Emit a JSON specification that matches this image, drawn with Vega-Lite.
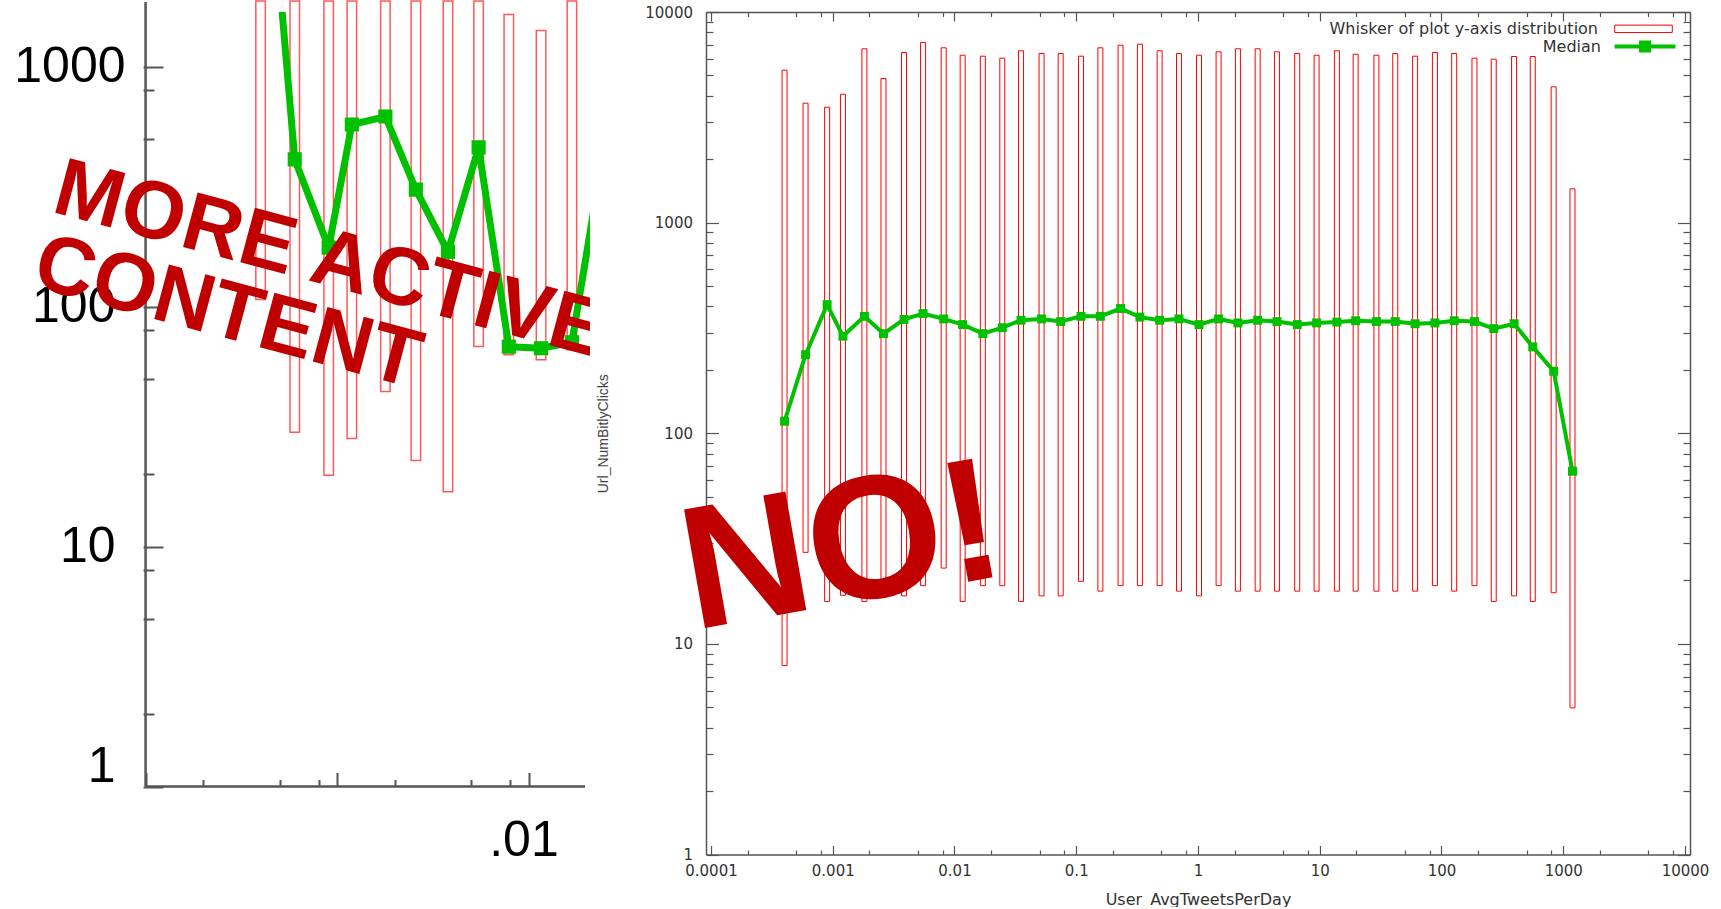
{
  "$schema": "https://vega.github.io/schema/vega-lite/v6.json",
  "background": "white",
  "padding": 0,
  "spacing": 6,
  "config": {
    "view": {"stroke": null},
    "axis": {"grid": false, "labelFlush": false, "labelOverlap": false, "titleFontWeight": "normal"},
    "legend": {"padding": 0}
  },
  "datasets": {
    "left": [
      {"x": 0.000398, "top": 1875, "bot": 107, "med": 19000},
      {"x": 0.000600, "top": 1875, "bot": 29.9, "med": 410},
      {"x": 0.000902, "top": 1875, "bot": 19.8, "med": 176},
      {"x": 0.001191, "top": 1875, "bot": 28.2, "med": 573},
      {"x": 0.001782, "top": 1875, "bot": 44.2, "med": 619},
      {"x": 0.00257, "top": 1875, "bot": 22.8, "med": 307},
      {"x": 0.00378, "top": 1875, "bot": 16.9, "med": 169},
      {"x": 0.00546, "top": 1875, "bot": 68.1, "med": 460},
      {"x": 0.00785, "top": 1648, "bot": 63, "med": 68},
      {"x": 0.01156, "top": 1413, "bot": 60, "med": 67},
      {"x": 0.01675, "top": 1875, "bot": 66, "med": 71},
      {"x": 0.02455, "top": null, "bot": null, "med": 450}
    ],
    "right": [
      {"x": 0.000402, "top": 5291, "bot": 7.89, "med": 114},
      {"x": 0.000598, "top": 3690, "bot": 27.2, "med": 236},
      {"x": 0.000899, "top": 3532, "bot": 15.9, "med": 408},
      {"x": 0.001213, "top": 4070, "bot": 17, "med": 289},
      {"x": 0.00182, "top": 6688, "bot": 15.9, "med": 359},
      {"x": 0.00261, "top": 4832, "bot": 16.9, "med": 297},
      {"x": 0.00385, "top": 6424, "bot": 16.9, "med": 347},
      {"x": 0.00552, "top": 7168, "bot": 18.9, "med": 370},
      {"x": 0.00815, "top": 6761, "bot": 22.9, "med": 349},
      {"x": 0.01167, "top": 6234, "bot": 15.9, "med": 328},
      {"x": 0.0171, "top": 6167, "bot": 18.9, "med": 297},
      {"x": 0.0247, "top": 6034, "bot": 18.9, "med": 317},
      {"x": 0.0352, "top": 6544, "bot": 15.9, "med": 344},
      {"x": 0.0519, "top": 6353, "bot": 16.9, "med": 349},
      {"x": 0.0745, "top": 6353, "bot": 16.9, "med": 339},
      {"x": 0.1094, "top": 6167, "bot": 19.8, "med": 359},
      {"x": 0.1578, "top": 6761, "bot": 17.8, "med": 359},
      {"x": 0.2312, "top": 6957, "bot": 18.9, "med": 391},
      {"x": 0.3334, "top": 7033, "bot": 18.9, "med": 356},
      {"x": 0.484, "top": 6544, "bot": 18.9, "med": 344},
      {"x": 0.698, "top": 6353, "bot": 17.8, "med": 349},
      {"x": 1.019, "top": 6234, "bot": 16.9, "med": 328},
      {"x": 1.476, "top": 6471, "bot": 18.9, "med": 349},
      {"x": 2.128, "top": 6688, "bot": 17.8, "med": 334},
      {"x": 3.09, "top": 6688, "bot": 17.8, "med": 344},
      {"x": 4.45, "top": 6471, "bot": 17.8, "med": 339},
      {"x": 6.53, "top": 6353, "bot": 17.8, "med": 328},
      {"x": 9.42, "top": 6234, "bot": 17.8, "med": 334},
      {"x": 13.83, "top": 6544, "bot": 17.8, "med": 337},
      {"x": 19.72, "top": 6302, "bot": 17.8, "med": 342},
      {"x": 29.2, "top": 6234, "bot": 17.8, "med": 339},
      {"x": 41.7, "top": 6353, "bot": 17.8, "med": 339},
      {"x": 60.7, "top": 6167, "bot": 17.8, "med": 331},
      {"x": 88.3, "top": 6424, "bot": 18.9, "med": 334},
      {"x": 127.1, "top": 6353, "bot": 17.8, "med": 342},
      {"x": 186.6, "top": 6034, "bot": 18.9, "med": 339},
      {"x": 268.5, "top": 5969, "bot": 15.9, "med": 314},
      {"x": 394.5, "top": 6147, "bot": 16.9, "med": 331},
      {"x": 562, "top": 6147, "bot": 15.9, "med": 257},
      {"x": 834, "top": 4413, "bot": 17.5, "med": 197},
      {"x": 1191, "top": 1447, "bot": 4.97, "med": 66}
    ]
  },
  "hconcat": [
    {
      "width": 590,
      "height": 774.5,
      "data": {"name": "left"},
      "resolve": {"axis": {"x": "independent", "y": "independent"}},
      "layer": [
        {
          "mark": {"type": "bar", "size": 9.5, "filled": false, "stroke": "#ff5a5a", "strokeWidth": 1.5},
          "encoding": {
            "x": {"field": "x", "type": "quantitative",
              "scale": {"type": "log", "domain": [1.848e-5, 0.0196], "nice": false},
              "axis": {"orient": "bottom", "domain": false,
                "values": [0.0001, 0.0002, 0.0005, 0.0008, 0.001, 0.002, 0.005, 0.008, 0.01],
                "tickSize": {"condition": {"test": "indexof([0.0001, 0.001, 0.01], datum.value) >= 0", "value": -14}, "value": -7},
                "tickColor": "#555", "tickWidth": 2,
                "labelExpr": "datum.value == 0.01 ? '.01' : ''",
                "labelFont": "Liberation Sans", "labelFontSize": 50, "labelColor": "#000",
                "labelPadding": 43, "labelOffset": -5.5, "title": null}},
            "y": {"field": "top", "type": "quantitative",
              "scale": {"type": "log", "domain": [1, 1687], "nice": false},
              "axis": {"orient": "left", "offset": -143, "domain": false,
                "values": [1, 2, 5, 8, 10, 20, 50, 80, 100, 200, 500, 800, 1000],
                "tickSize": {"condition": {"test": "indexof([1, 10, 100, 1000], datum.value) >= 0", "value": -20}, "value": -11},
                "tickColor": "#555", "tickWidth": 2,
                "labelExpr": "indexof([1, 10, 100, 1000], datum.value) >= 0 ? format(datum.value, '~g') : ''",
                "labelFont": "Liberation Sans", "labelFontSize": 50, "labelColor": "#000",
                "labelPadding": {"condition": {"test": "datum.value == 1000", "value": 38}, "value": 48},
                "labelOffset": {"condition": {"test": "datum.value == 1", "value": -20}, "value": 0},
                "title": null}},
            "y2": {"field": "bot"}
          }
        },
        {
          "mark": {"type": "line", "color": "#00c000", "strokeWidth": 7, "clip": true},
          "encoding": {
            "x": {"field": "x", "type": "quantitative", "scale": {"type": "log", "domain": [1.848e-5, 0.0196], "nice": false}, "axis": null},
            "y": {"field": "med", "type": "quantitative", "scale": {"type": "log", "domain": [1, 1687], "nice": false}, "axis": null}
          }
        },
        {
          "mark": {"type": "point", "shape": "square", "filled": true, "size": 200, "color": "#00c000", "opacity": 1, "clip": true},
          "encoding": {
            "x": {"field": "x", "type": "quantitative", "scale": {"type": "log", "domain": [1.848e-5, 0.0196], "nice": false}, "axis": null},
            "y": {"field": "med", "type": "quantitative", "scale": {"type": "log", "domain": [1, 1687], "nice": false}, "axis": null}
          }
        },
        {
          "data": {"values": [{}]},
          "mark": {"type": "rule", "color": "#555", "strokeWidth": 2.5},
          "encoding": {
            "x": {"datum": 0.0001, "type": "quantitative", "scale": {"type": "log", "domain": [1.848e-5, 0.0196], "nice": false}, "axis": null},
            "x2": {"datum": 0.0196},
            "y": {"datum": 1, "type": "quantitative", "scale": {"type": "log", "domain": [1, 1687], "nice": false}, "axis": null}
          }
        },
        {
          "data": {"values": [{}]},
          "mark": {"type": "rule", "color": "#555", "strokeWidth": 2.5},
          "encoding": {
            "x": {"datum": 0.0001, "type": "quantitative", "scale": {"type": "log", "domain": [1.848e-5, 0.0196], "nice": false}, "axis": null},
            "y": {"datum": 1, "type": "quantitative", "scale": {"type": "log", "domain": [1, 1687], "nice": false}, "axis": null},
            "y2": {"datum": 1857}
          }
        },
        {
          "data": {"values": [{}]},
          "mark": {"type": "text", "text": ["MORE ACTIVE", "CONTENT"], "font": "Liberation Sans", "fontWeight": "bold",
            "fontSize": 82, "lineHeight": 77, "angle": 15, "align": "left", "baseline": "alphabetic",
            "color": "#c00000", "clip": true},
          "encoding": {
            "x": {"datum": 3.177e-5, "type": "quantitative", "scale": {"type": "log", "domain": [1.848e-5, 0.0196], "nice": false}, "axis": null},
            "y": {"datum": 249.2, "type": "quantitative", "scale": {"type": "log", "domain": [1, 1687], "nice": false}, "axis": null}
          }
        }
      ]
    },
    {
      "width": 984,
      "height": 842.5,
      "data": {"name": "right"},
      "resolve": {"axis": {"x": "independent", "y": "independent"}},
      "layer": [
        {
          "mark": {"type": "bar", "size": 5, "filled": false, "strokeWidth": 1},
          "encoding": {
            "x": {"field": "x", "type": "quantitative",
              "scale": {"type": "log", "domain": [0.0001, 10000], "nice": false},
              "axis": {"orient": "bottom",
                "values": [0.0001, 0.0002, 0.0005, 0.0008, 0.001, 0.002, 0.005, 0.008, 0.01, 0.02, 0.05, 0.08, 0.1, 0.2, 0.5, 0.8, 1, 2, 5, 8, 10, 20, 50, 80, 100, 200, 500, 800, 1000, 2000, 5000, 8000, 10000],
                "tickSize": {"condition": {"test": "indexof([0.0001, 0.001, 0.01, 0.1, 1, 10, 100, 1000, 10000], datum.value) >= 0", "value": -9}, "value": -4.5},
                "domainColor": "#555", "domainWidth": 1.5, "tickColor": "#555", "tickWidth": 1.2,
                "labelExpr": "indexof([0.0001, 0.001, 0.01, 0.1, 1, 10, 100, 1000, 10000], datum.value) >= 0 ? format(datum.value, '~g') : ''",
                "labelFont": "DejaVu Sans", "labelFontSize": 15, "labelColor": "#333", "labelPadding": 18,
                "title": "User_AvgTweetsPerDay", "titleFont": "DejaVu Sans", "titleFontSize": 16, "titleColor": "#333", "titlePadding": 8}},
            "y": {"field": "top", "type": "quantitative",
              "scale": {"type": "log", "domain": [1, 10000], "nice": false},
              "axis": {"orient": "left",
                "values": [1, 2, 3, 4, 5, 6, 7, 8, 9, 10, 20, 30, 40, 50, 60, 70, 80, 90, 100, 200, 300, 400, 500, 600, 700, 800, 900, 1000, 2000, 3000, 4000, 5000, 6000, 7000, 8000, 9000, 10000],
                "tickSize": {"condition": {"test": "indexof([1, 10, 100, 1000, 10000], datum.value) >= 0", "value": -12.5}, "value": -7},
                "domainColor": "#555", "domainWidth": 1.5, "tickColor": "#555", "tickWidth": 1.2,
                "labelExpr": "indexof([1, 10, 100, 1000, 10000], datum.value) >= 0 ? format(datum.value, '~g') : ''",
                "labelFont": "DejaVu Sans", "labelFontSize": 15, "labelColor": "#333", "labelPadding": 26,
                "title": "Url_NumBitlyClicks", "titleFont": "Liberation Sans", "titleFontSize": 14, "titleColor": "#444", "titlePadding": 34}},
            "y2": {"field": "bot"},
            "stroke": {"datum": "Whisker of plot y-axis distribution", "type": "nominal",
              "scale": {"range": ["#ff0000"]},
              "legend": {"orient": "none", "legendX": 1635, "legendY": 8.3, "title": null,
                "symbolType": "M-3.6,-0.46H3.6V0.46H-3.6Z", "symbolSize": 256, "symbolStrokeWidth": 1,
                "labelAlign": "right", "labelOffset": -54, "labelLimit": 500,
                "labelFont": "DejaVu Sans", "labelFontSize": 16, "labelColor": "#333"}}
          }
        },
        {
          "mark": {"type": "line", "strokeWidth": 4},
          "encoding": {
            "x": {"field": "x", "type": "quantitative",
              "scale": {"type": "log", "domain": [0.0001, 10000], "nice": false},
              "axis": {"orient": "top", "labels": false, "title": null,
                "values": [0.0001, 0.0002, 0.0005, 0.0008, 0.001, 0.002, 0.005, 0.008, 0.01, 0.02, 0.05, 0.08, 0.1, 0.2, 0.5, 0.8, 1, 2, 5, 8, 10, 20, 50, 80, 100, 200, 500, 800, 1000, 2000, 5000, 8000, 10000],
                "tickSize": {"condition": {"test": "indexof([0.0001, 0.001, 0.01, 0.1, 1, 10, 100, 1000, 10000], datum.value) >= 0", "value": -9}, "value": -4.5},
                "domainColor": "#555", "domainWidth": 1.5, "tickColor": "#555", "tickWidth": 1.2}},
            "y": {"field": "med", "type": "quantitative",
              "scale": {"type": "log", "domain": [1, 10000], "nice": false},
              "axis": {"orient": "right", "labels": false, "title": null,
                "values": [1, 2, 3, 4, 5, 6, 7, 8, 9, 10, 20, 30, 40, 50, 60, 70, 80, 90, 100, 200, 300, 400, 500, 600, 700, 800, 900, 1000, 2000, 3000, 4000, 5000, 6000, 7000, 8000, 9000, 10000],
                "tickSize": {"condition": {"test": "indexof([1, 10, 100, 1000, 10000], datum.value) >= 0", "value": -12.5}, "value": -7},
                "domainColor": "#555", "domainWidth": 1.5, "tickColor": "#555", "tickWidth": 1.2}},
            "color": {"datum": "Median", "type": "nominal",
              "scale": {"range": ["#00c000"]},
              "legend": {"orient": "none", "legendX": 1635, "legendY": 24.5, "title": null,
                "symbolType": "M-3.8,0H3.8M-0.5,-0.5H0.5V0.5H-0.5Z", "symbolSize": 256, "symbolStrokeWidth": 4,
                "symbolFillColor": "#00c000",
                "labelAlign": "right", "labelOffset": -54, "labelLimit": 500,
                "labelFont": "DejaVu Sans", "labelFontSize": 16, "labelColor": "#333"}}
          }
        },
        {
          "mark": {"type": "point", "shape": "square", "filled": true, "size": 80, "color": "#00c000", "opacity": 1},
          "encoding": {
            "x": {"field": "x", "type": "quantitative", "scale": {"type": "log", "domain": [0.0001, 10000], "nice": false}, "axis": null},
            "y": {"field": "med", "type": "quantitative", "scale": {"type": "log", "domain": [1, 10000], "nice": false}, "axis": null}
          }
        },
        {
          "data": {"values": [{}]},
          "mark": {"type": "text", "text": "NO!", "font": "Liberation Sans", "fontWeight": "bold", "fontSize": 175,
            "angle": -10, "align": "left", "baseline": "alphabetic", "color": "#c00000"},
          "encoding": {
            "x": {"datum": 7.18e-5, "type": "quantitative", "scale": {"type": "log", "domain": [0.0001, 10000], "nice": false}, "axis": null},
            "y": {"datum": 11.63, "type": "quantitative", "scale": {"type": "log", "domain": [1, 10000], "nice": false}, "axis": null}
          }
        }
      ]
    }
  ]
}
